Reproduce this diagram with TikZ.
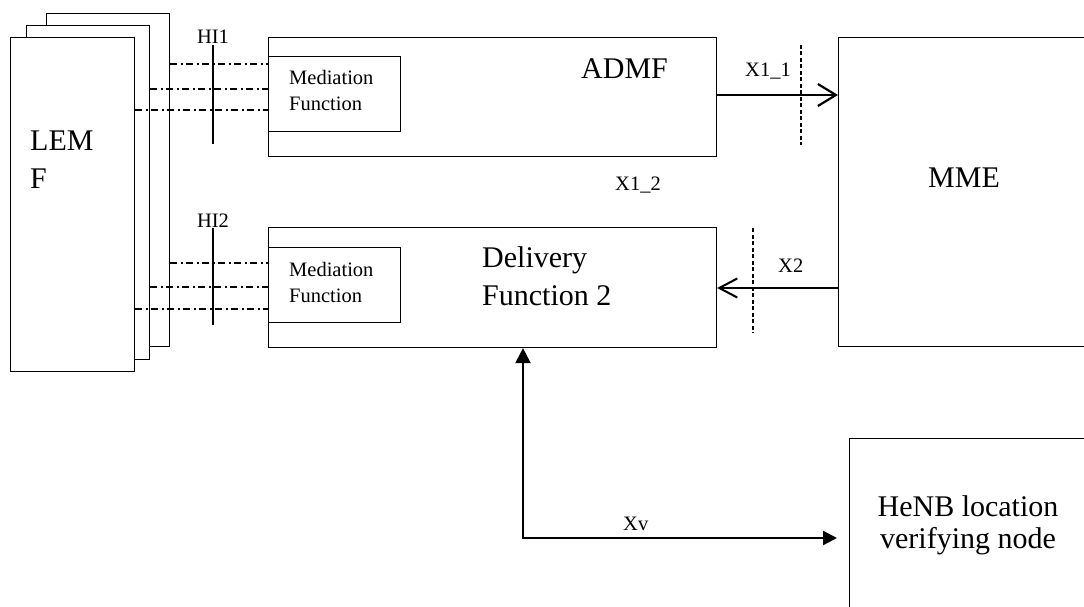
\documentclass[tikz,border=0pt]{standalone}
\usepackage{fontspec}
\setmainfont{Liberation Serif}
\usetikzlibrary{positioning}
\usetikzlibrary{arrows.meta}

\tikzset{
    box/.style={rectangle, draw, line width=1.1pt, fill=white, anchor=north west, inner sep=0pt},
    hiLine/.style={line width=1.3pt, dash pattern=on 7pt off 3.5pt on 2pt off 3.5pt},
    cutLine/.style={line width=1.3pt, dash pattern=on 4pt off 2.5pt},
    bigText/.style={font=\fontsize{30}{38}\selectfont, inner sep=0pt, align=left},
    smallText/.style={font=\fontsize{20.5}{26}\selectfont, inner sep=0pt, align=left},
}

\begin{document}
\begin{tikzpicture}[x=1pt, y=-1pt]
    \useasboundingbox (0,0) rectangle (1084,607);
    \clip (0,0) rectangle (1084,607);

    % LEMF stack
    \node (lemf_back) [box, minimum width=123pt, minimum height=333pt] at (46,13) {};
    \node (lemf_mid) [box, minimum width=123pt, minimum height=334pt] at (26,25) {};
    \node (lemf_front) [box, minimum width=124pt, minimum height=334pt] at (10,37) {};
    \node (lemf_text) [bigText, anchor=base west] at (30,188) {LEM\\F};

    % ADMF and delivery function
    \node (admf) [box, minimum width=448pt, minimum height=119pt] at (268,37) {};
    \node (med1) [box, minimum width=132pt, minimum height=75pt] at (268,56) {};
    \node (med1_text) [smallText, anchor=base west] at (289,111) {Mediation\\Function};
    \node (admf_text) [bigText, anchor=base west] at (581,79) {ADMF};

    \node (delivery) [box, minimum width=448pt, minimum height=120pt] at (268,227) {};
    \node (med2) [box, minimum width=132pt, minimum height=75pt] at (268,247) {};
    \node (med2_text) [smallText, anchor=base west] at (289,302) {Mediation\\Function};
    \node (delivery_text) [bigText, anchor=base west] at (482,305) {Delivery\\Function 2};

    % network nodes (run off the page)
    \node (mme) [box, minimum width=262pt, minimum height=309pt] at (838,37) {};
    \node (mme_text) [bigText, anchor=base] at (964,187) {MME};
    \node (henb) [box, minimum width=250pt, minimum height=190pt] at (849,438) {};
    \node (henb_text) [bigText, align=center, anchor=base] at (968,548) {HeNB location\\[-6pt]verifying node};

    % handover interfaces
    \draw [hiLine] (lemf_back.east |- 0,64) -- (admf.west |- 0,64);
    \draw [hiLine] (lemf_mid.east |- 0,89) -- (admf.west |- 0,89);
    \draw [hiLine] (lemf_front.east |- 0,110) -- (admf.west |- 0,110);
    \draw [line width=1.6pt] (213,45) -- (213,144);
    \node (hi1) [smallText, anchor=base] at (213,44) {HI1};

    \draw [hiLine] (lemf_back.east |- 0,263) -- (delivery.west |- 0,263);
    \draw [hiLine] (lemf_mid.east |- 0,287) -- (delivery.west |- 0,287);
    \draw [hiLine] (lemf_front.east |- 0,309) -- (delivery.west |- 0,309);
    \draw [line width=1.6pt] (213,228) -- (213,325);
    \node (hi2) [smallText, anchor=base] at (213,227) {HI2};

    % X1 and X2
    \draw [line width=2.2pt, -{Straight Barb[length=18pt, width=22pt]}] (admf.east |- 0,95) -- (mme.west |- 0,95);
    \draw [cutLine] (801,45) -- (801,145);
    \node (x11) [smallText, anchor=base west] at (745,77) {X1\_1};
    \node (x12) [smallText, anchor=base west] at (615,190) {X1\_2};

    \draw [line width=1.2pt, -{Straight Barb[length=18pt, width=19pt, line width=2pt]}] (mme.west |- 0,288) -- (delivery.east |- 0,288);
    \draw [cutLine] (753,228) -- (753,333);
    \node (x2) [smallText, anchor=base west] at (778,272) {X2};

    % Xv
    \coordinate (xv_corner) at (523,538);
    \draw [line width=2.2pt, {Triangle[length=15pt, width=15pt]}-{Triangle[length=14pt, width=14pt]}, shorten >=12pt] (delivery.south -| xv_corner) -- (xv_corner) -- (henb.west |- xv_corner);
    \node (xv) [smallText, anchor=base west] at (623,530) {Xv};
\end{tikzpicture}
\end{document}
